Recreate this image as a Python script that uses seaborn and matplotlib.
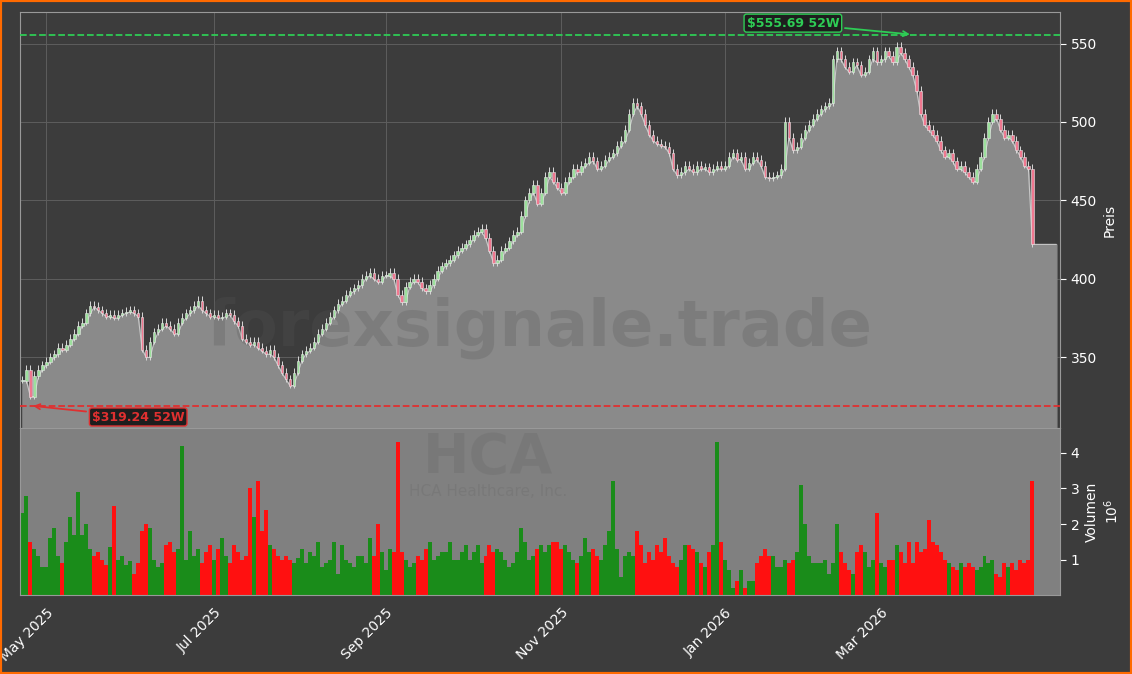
import matplotlib
matplotlib.use('Agg')
import matplotlib.pyplot as plt
import numpy as np
import pandas as pd
import seaborn as sns

# ── Daten (Schlusskurse je Monat, Volumen in Mio.) ─────────────────────────────
close_apr25 = [335, 342, 325, 338, 342, 345]
close_may25 = [347, 350, 352, 356, 355, 358, 362, 365, 370, 372, 378, 383, 382, 380, 378, 376, 377, 375, 377, 378, 379, 380]
close_jun25 = [378, 376, 355, 350, 360, 366, 368, 372, 370, 368, 365, 372, 375, 378, 380, 383, 386, 380, 378, 376]
close_jul25 = [377, 375, 376, 378, 377, 373, 370, 362, 360, 358, 360, 356, 354, 352, 355, 350, 345, 340, 336, 332, 340, 348]
close_aug25 = [352, 354, 356, 360, 365, 368, 372, 376, 380, 384, 386, 390, 392, 394, 396, 400, 402, 404, 400, 398, 402]
close_sep25 = [402, 404, 400, 390, 385, 395, 398, 400, 398, 394, 392, 396, 400, 405, 408, 410, 412, 415, 418, 420, 422]
close_oct25 = [425, 428, 430, 432, 426, 418, 410, 412, 418, 420, 424, 428, 430, 440, 450, 455, 460, 448, 455, 465, 468, 462, 458]
close_nov25 = [455, 462, 465, 470, 468, 472, 474, 478, 475, 470, 472, 476, 478, 480, 485, 488, 495, 505, 512]
close_dec25 = [510, 505, 498, 492, 488, 486, 485, 484, 480, 470, 466, 468, 472, 470, 468, 472, 470, 471, 468, 470, 472, 470]
close_jan26 = [472, 478, 480, 476, 478, 470, 474, 478, 476, 472, 465, 464, 465, 466, 470, 500, 490, 482, 484, 490]
close_feb26 = [495, 498, 502, 505, 508, 510, 512, 540, 545, 540, 535, 532, 538, 536, 530, 532, 540, 545, 538]
close_mar26 = [540, 545, 542, 538, 548, 544, 540, 535, 530, 520, 505, 498, 495, 492, 488, 482, 478, 480, 475, 470, 472, 468]
close_apr26 = [465, 462, 470, 478, 490, 500, 505, 502, 495, 490, 492, 488, 482, 478, 472, 470, 422]

vol_apr25 = [2.3, 2.8, 1.5, 1.3, 1.1, 0.8]
vol_may25 = [0.8, 1.6, 1.9, 1.1, 0.9, 1.5, 2.2, 1.7, 2.9, 1.7, 2.0, 1.3, 1.1, 1.2, 1.0, 0.85, 1.35, 2.5, 1.0, 1.1, 0.85, 0.95]
vol_jun25 = [0.6, 0.9, 1.8, 2.0, 1.9, 1.0, 0.8, 0.9, 1.4, 1.5, 1.2, 1.3, 4.2, 1.0, 1.8, 1.1, 1.3, 0.9, 1.2, 1.4]
vol_jul25 = [1.0, 1.3, 1.6, 1.1, 0.9, 1.4, 1.2, 1.0, 1.1, 3.0, 2.2, 3.2, 1.8, 2.4, 1.4, 1.3, 1.1, 1.0, 1.1, 1.0, 0.9, 1.05]
vol_aug25 = [1.3, 0.9, 1.2, 1.1, 1.5, 0.8, 0.9, 1.0, 1.5, 0.6, 1.4, 1.0, 0.9, 0.8, 1.1, 1.1, 0.9, 1.6, 1.1, 2.0, 1.2]
vol_sep25 = [0.7, 1.3, 1.2, 4.3, 1.2, 1.0, 0.8, 0.9, 1.1, 1.0, 1.3, 1.5, 1.0, 1.1, 1.2, 1.2, 1.5, 1.0, 1.0, 1.2, 1.4]
vol_oct25 = [1.0, 1.2, 1.4, 0.9, 1.1, 1.4, 1.2, 1.3, 1.2, 1.0, 0.8, 0.9, 1.2, 1.9, 1.5, 1.0, 1.1, 1.3, 1.4, 1.2, 1.4, 1.5, 1.5]
vol_nov25 = [1.3, 1.4, 1.2, 1.0, 0.9, 1.1, 1.6, 1.2, 1.3, 1.1, 1.0, 1.4, 1.8, 3.2, 1.3, 0.5, 1.1, 1.2, 1.1]
vol_dec25 = [1.8, 1.4, 0.9, 1.2, 1.0, 1.4, 1.2, 1.6, 1.1, 0.9, 0.8, 1.0, 1.4, 1.4, 1.3, 1.2, 0.9, 0.8, 1.2, 1.4, 4.3, 1.5]
vol_jan26 = [1.0, 0.7, 0.2, 0.4, 0.7, 0.2, 0.4, 0.4, 0.9, 1.1, 1.3, 1.1, 1.1, 0.8, 0.8, 1.0, 0.9, 1.0, 1.2, 3.1]
vol_feb26 = [2.0, 1.1, 0.9, 0.9, 0.9, 1.0, 0.6, 0.9, 2.0, 1.2, 0.9, 0.7, 0.6, 1.2, 1.4, 1.2, 0.8, 1.0, 2.3]
vol_mar26 = [0.9, 0.8, 1.0, 1.0, 1.4, 1.2, 0.9, 1.5, 0.9, 1.5, 1.2, 1.3, 2.1, 1.5, 1.4, 1.2, 1.0, 0.9, 0.8, 0.7, 0.9, 0.8]
vol_apr26 = [0.9, 0.8, 0.7, 0.8, 1.1, 0.9, 1.0, 0.6, 0.5, 0.9, 0.8, 0.9, 0.7, 1.0, 0.9, 1.0, 3.2]

months = [('2025-04-23', '2025-04-30', close_apr25, vol_apr25),
          ('2025-05-01', '2025-05-31', close_may25, vol_may25),
          ('2025-06-01', '2025-06-30', close_jun25, vol_jun25),
          ('2025-07-01', '2025-07-31', close_jul25, vol_jul25),
          ('2025-08-01', '2025-08-31', close_aug25, vol_aug25),
          ('2025-09-01', '2025-09-30', close_sep25, vol_sep25),
          ('2025-10-01', '2025-10-31', close_oct25, vol_oct25),
          ('2025-11-01', '2025-11-30', close_nov25, vol_nov25),
          ('2025-12-01', '2025-12-31', close_dec25, vol_dec25),
          ('2026-01-01', '2026-01-31', close_jan26, vol_jan26),
          ('2026-02-01', '2026-02-28', close_feb26, vol_feb26),
          ('2026-03-01', '2026-03-31', close_mar26, vol_mar26),
          ('2026-04-01', '2026-04-30', close_apr26, vol_apr26)]

HIGH_52W, HIGH_DATE = 555.69, '2026-03-12'
LOW_52W, LOW_DATE = 319.24, '2025-04-25'

rows = []
for start, end, cl, vo in months:
    days = pd.bdate_range(start, end)[:len(cl)]
    rows += [dict(date=d, close=c, vol=v) for d, c, v in zip(days, cl, vo)]
df = pd.DataFrame(rows)
df['i'] = np.arange(len(df))
df['open'] = df['close'].shift(1).fillna(df['close'])
df['up'] = df['close'] >= df['open']
df['lo'] = df[['open', 'close']].min(axis=1)
df['hi'] = df[['open', 'close']].max(axis=1)


def idx_of(date):
    return int(df.loc[df['date'] >= pd.Timestamp(date), 'i'].iloc[0])


# ── Stil ──────────────────────────────────────────────────────────────────────
BG = '#3c3c3c'
sns.set_style('dark')
plt.rcParams['font.family'] = ['DejaVu Sans']

fig = plt.figure(figsize=(11.32, 6.74), dpi=100, facecolor=BG)
fig.patches.append(plt.Rectangle((0, 0), 1, 1, transform=fig.transFigure,
                                 fill=False, edgecolor='#ff6a00', lw=3))
ax = fig.add_axes([0.0177, 0.365, 0.919, 0.617])
axv = fig.add_axes([0.0177, 0.117, 0.919, 0.248], sharex=ax)
ax.set_facecolor(BG)
axv.set_facecolor('#808080')

# Fläche unter den Kursen
n = len(df)
xfill = list(df['i']) + [n + 5]
yfill = list(df['lo']) + [df['lo'].iloc[-1]]
ax.fill_between(xfill, yfill, 300, color='#8a8a8a', zorder=1)
ax.plot(xfill, yfill, color='#c8c8c8', lw=0.8, zorder=2)

# Kerzen
for _, r in df.iterrows():
    col = '#9de09d' if r['up'] else '#f07890'
    ax.vlines(r['i'], r['lo'] - 1.5, r['hi'] + 3, color='#d8d8d8', lw=0.7, zorder=3)
    ax.bar(r['i'], max(r['hi'] - r['lo'], 0.8), bottom=r['lo'], width=0.6,
           color=col, edgecolor='#e8e8e8', lw=0.4, zorder=4)

# 52W Linien
ax.axhline(HIGH_52W, color='#2ecc55', ls='--', lw=1.3, zorder=5)
ax.axhline(LOW_52W, color='#e03030', ls='--', lw=1.3, zorder=5)
hi_i, lo_i = idx_of(HIGH_DATE), idx_of(LOW_DATE)
ax.annotate(f'${HIGH_52W:.2f} 52W', xy=(hi_i, HIGH_52W), xytext=(hi_i - 30, 563),
            ha='center', va='center', color='#2ecc55', fontsize=9, fontweight='bold',
            bbox=dict(boxstyle='round,pad=0.2', fc='#1e1e1e', ec='#2ecc55'),
            arrowprops=dict(arrowstyle='->', color='#2ecc55', lw=1.3), zorder=6)
ax.annotate(f'${LOW_52W:.2f} 52W', xy=(lo_i, LOW_52W), xytext=(lo_i + 27, 312),
            ha='center', va='center', color='#e03030', fontsize=9, fontweight='bold',
            bbox=dict(boxstyle='round,pad=0.2', fc='#1e1e1e', ec='#e03030'),
            arrowprops=dict(arrowstyle='->', color='#e03030', lw=1.3), zorder=6)

# Volumen
vcols = np.where(df['up'], '#1a8c1a', '#ff1010')
axv.bar(df['i'], df['vol'], width=1.0, color=vcols, lw=0)

# Wasserzeichen
ax.text(0.5, 0.24, 'forexsignale.trade', transform=ax.transAxes, ha='center', va='center',
        fontsize=46, fontweight='bold', color='#555555', alpha=0.25, zorder=2)
axv.text(0.45, 0.82, 'HCA', transform=axv.transAxes, ha='center', va='center',
         fontsize=40, fontweight='bold', color='#747474', alpha=0.6, zorder=0)
axv.text(0.45, 0.62, 'HCA Healthcare, Inc.', transform=axv.transAxes, ha='center',
         va='center', fontsize=11, color='#747474', alpha=0.6, zorder=0)

# Achsen
ax.set_xlim(-0.6, n + 6)
ax.set_ylim(305, 570)
axv.set_ylim(0, 4.7)
for a in (ax, axv):
    a.yaxis.tick_right()
    a.yaxis.set_label_position('right')
    a.tick_params(colors='white', labelsize=10, length=4, direction='out')
    for s in a.spines.values():
        s.set_color('#999999')
ax.grid(True, color='#5e5e5e', lw=0.7)
axv.grid(False)
ax.set_yticks([350, 400, 450, 500, 550])
axv.set_yticks([1, 2, 3, 4])
ax.set_ylabel('Preis', color='white', fontsize=10)
axv.set_ylabel('Volumen\n$10^6$', color='white', fontsize=10)
ax.tick_params(axis='x', labelbottom=False, length=0)

tick_dates = ['2025-05-01', '2025-07-01', '2025-09-01', '2025-11-01', '2026-01-01', '2026-03-01']
axv.set_xticks([idx_of(d) for d in tick_dates])
axv.set_xticklabels([pd.Timestamp(d).strftime('%b %Y') for d in tick_dates])
plt.setp(axv.get_xticklabels(), rotation=45, ha='right', rotation_mode='anchor')

plt.savefig('out.png', dpi=100, facecolor=BG)
